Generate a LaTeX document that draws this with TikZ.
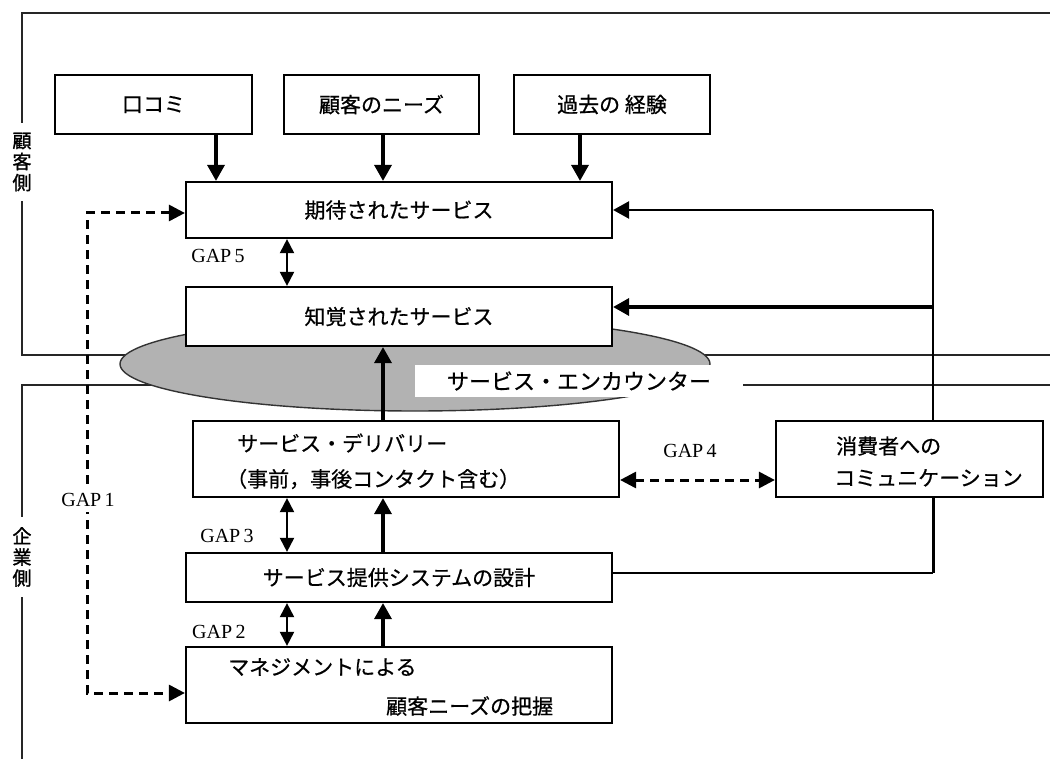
\documentclass[tikz,border=0pt]{standalone}
\usepackage{fontspec}
\setmainfont{Liberation Serif}
\newfontfamily\jp[FakeBold=0.6]{Noto Sans CJK JP}
\newfontfamily\jpb[FakeBold=1.4]{Noto Sans CJK JP}
\usetikzlibrary{arrows.meta}
\begin{document}
\begin{tikzpicture}[x=1pt,y=-1pt,
  frame/.style={line width=2.2pt, black!85},
  box/.style={draw, line width=2.2pt, fill=white, inner sep=0pt, font=\jp\fontsize{21}{26}\selectfont},
  jptext/.style={font=\jp\fontsize{21}{26}\selectfont, inner sep=0pt},
  arr/.style={line width=3.4pt, -{Triangle[length=16pt,width=17pt]}},
  arrthin/.style={line width=2.6pt, -{Triangle[length=16pt,width=17pt]}},
  conn/.style={line width=2pt},
  gaparr/.style={line width=2pt, {Triangle[length=14pt,width=14pt]}-{Triangle[length=14pt,width=14pt]}},
  dasharr/.style={line width=3pt, dash pattern=on 9pt off 6pt, {Triangle[length=16pt,width=16pt]}-{Triangle[length=16pt,width=16pt]}},
  gaplbl/.style={font=\fontsize{20}{24}\selectfont, inner sep=1pt},
  side/.style={font=\jpb\fontsize{19}{21}\selectfont, align=center, fill=white, inner xsep=2pt, inner ysep=10pt}
]
\useasboundingbox (0,0) rectangle (1050,759);

% frames
\draw[frame] (1050,13) -- (22,13) -- (22,355) -- (1050,355);
\draw[frame] (1050,385) -- (22,385) -- (22,760);
\node[side] (cust) at (22,162) {顧\\客\\側};
\node[side] (comp) at (22,557) {企\\業\\側};

% service encounter ellipse
\draw[fill=black!30, draw=black!80, line width=1.4pt] (415,364) ellipse [x radius=295, y radius=47];
\node[fill=white, minimum width=328pt, minimum height=32pt, inner sep=0pt,
      font=\jp\fontsize{22}{26}\selectfont] (enc) at (579,381) {サービス・エンカウンター};

% boxes
\node[box, minimum width=197pt, minimum height=59pt] (kuchi) at (153.5,104.5) {口コミ};
\node[box, minimum width=195pt, minimum height=59pt] (needs) at (381.5,104.5) {顧客のニーズ};
\node[box, minimum width=196pt, minimum height=59pt] (keiken) at (612,104.5) {過去の 経験};
\node[box, minimum width=426pt, minimum height=56pt] (exp) at (399,210) {期待されたサービス};
\node[box, minimum width=426pt, minimum height=59pt] (perc) at (399,316.5) {知覚されたサービス};
\node[box, minimum width=426pt, minimum height=76pt] (deliv) at (406,459) {};
\node[jptext, anchor=west] (delivA) at (237,443) {サービス・デリバリー};
\node[jptext, anchor=west] (delivB) at (226,479) {（事前，事後コンタクト含む）};
\node[box, minimum width=267pt, minimum height=76pt] (comm) at (909.5,459) {};
\node[jptext, anchor=west] (commA) at (836,446) {消費者への};
\node[jptext, anchor=west] (commB) at (834,478) {コミュニケーション};
\node[box, minimum width=426pt, minimum height=49pt] (design) at (399,577.5) {サービス提供システムの設計};
\node[box, minimum width=426pt, minimum height=76pt] (mgmt) at (399,685) {};
\node[jptext, anchor=west] (mgmtA) at (228,667) {マネジメントによる};
\node[jptext, anchor=west] (mgmtB) at (386,706) {顧客ニーズの把握};

% inputs to expected service
\draw[arr] ([xshift=62.5pt]kuchi.south) -- ([xshift=62.5pt]kuchi.south |- exp.north);
\draw[arr] ([xshift=1.5pt]needs.south) -- ([xshift=1.5pt]needs.south |- exp.north);
\draw[arr] ([xshift=-32pt]keiken.south) -- ([xshift=-32pt]keiken.south |- exp.north);

% upward flows
\draw[arr] ([xshift=-23pt]deliv.north) -- ([xshift=-23pt]deliv.north |- perc.south);
\draw[arr] ([xshift=-16pt]design.north) -- ([xshift=-16pt]design.north |- deliv.south);
\draw[arr] ([xshift=-16pt]mgmt.north) -- ([xshift=-16pt]mgmt.north |- design.south);

% gaps 5,3,2
\draw[gaparr] ([xshift=-112pt]exp.south) -- ([xshift=-112pt]exp.south |- perc.north);
\draw[gaparr] ([xshift=-112pt]design.north) -- ([xshift=-112pt]design.north |- deliv.south);
\draw[gaparr] ([xshift=-112pt]mgmt.north) -- ([xshift=-112pt]mgmt.north |- design.south);
\node[gaplbl] (g5) at (218,256) {GAP\,5};
\node[gaplbl] (g3) at (227,536) {GAP\,3};
\node[gaplbl, fill=white, anchor=north west, text width=78pt, inner xsep=4pt, inner ysep=3pt] (g2) at (188,622) {GAP\,2};

% gap 4
\draw[dasharr] ([yshift=-21pt]deliv.east) -- ([yshift=-21pt]deliv.east -| comm.west);
\node[gaplbl] (g4) at (690,451) {GAP\,4};

% communication feedback
\coordinate (fbx) at ([xshift=23.5pt]comm.north);
\coordinate (pin) at ([yshift=9.5pt]perc.east);
\draw[conn] (fbx) -- (fbx |- exp.east);
\draw[arrthin] (fbx |- exp.east) -- (exp.east);
\draw[arr] (fbx |- pin) -- (pin);
\coordinate (dout) at ([yshift=4.5pt]design.east);
\draw[conn] (dout) -- (dout -| fbx);
\draw[line width=3pt] (dout -| fbx) -- (comm.south -| fbx);

% gap 1
\coordinate (ea) at ([yshift=-3pt]exp.west);
\coordinate (ma) at ([yshift=-8pt]mgmt.west);
\coordinate (g1x) at (87,400);
\draw[dasharr] (ea) -- (g1x |- ea) -- (g1x |- ma) -- (ma);
\node[gaplbl, fill=white, inner ysep=5pt] (g1) at (88,500) {GAP\,1};
\end{tikzpicture}
\end{document}
